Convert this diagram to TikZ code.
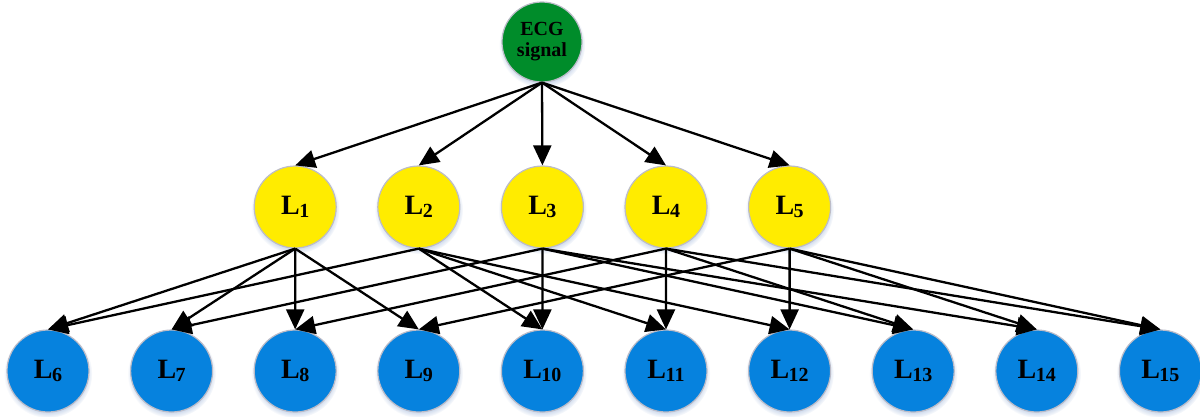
\documentclass[tikz,border=0pt]{standalone}
\usepackage{fontspec}
\setmainfont{Liberation Serif}
\usetikzlibrary{arrows.meta,shadows}
\definecolor{ecggreen}{RGB}{0,140,42}
\definecolor{lyellow}{RGB}{255,236,0}
\definecolor{lblue}{RGB}{6,130,222}
\definecolor{rimgray}{RGB}{188,188,200}
\definecolor{glowc}{RGB}{150,175,215}
\newcommand{\lab}[1]{{\fontsize{28}{28}\selectfont\bfseries L\kern-0.5pt\raisebox{-3.5pt}{\fontsize{20}{20}\selectfont #1}}}
\begin{document}
\begin{tikzpicture}[x=1pt,y=-1pt,
  glow/.style={circular drop shadow={shadow xshift=0pt, shadow yshift=-2.5pt, shadow scale=1.08, fill=glowc, opacity=0.5}},
  topnode/.style={circle, glow, minimum size=80pt, inner sep=0pt, fill=ecggreen, draw=rimgray, line width=1.2pt,
    align=center, font=\fontsize{20}{21}\selectfont\bfseries},
  midnode/.style={circle, glow, minimum size=82pt, inner sep=0pt, fill=lyellow, draw=rimgray, line width=1.2pt},
  leafnode/.style={circle, glow, minimum size=82pt, inner sep=0pt, fill=lblue, draw=rimgray, line width=1.2pt},
  arr/.style={-{Triangle[length=20pt,width=18pt]}, line width=2.3pt, black}
]
\useasboundingbox (0,0) rectangle (1200,416);
\node[topnode] (E) at (542,42) {ECG\\signal};
\foreach \i/\x in {1/295.2,2/418.8,3/542.4,4/666,5/789.6}{
  \node[midnode] (L\i) at (\x,207) {\lab{\i}};
}
\foreach \k in {0,...,9}{
  \pgfmathtruncatemacro{\n}{\k+6}
  \node[leafnode] (L\n) at ({48+123.6*\k},371) {\lab{\n}};
}
\foreach \i in {1,...,5}{
  \draw[arr] (E.south) -- (L\i.north);
}
\foreach \s/\t in {1/6,1/7,1/8,1/9,2/6,2/10,2/11,2/12,3/7,3/10,3/13,3/14,4/8,4/11,4/13,4/15,5/9,5/12,5/14,5/15}{
  \draw[arr] (L\s.south) -- (L\t.north);
}
\end{tikzpicture}
\end{document}
